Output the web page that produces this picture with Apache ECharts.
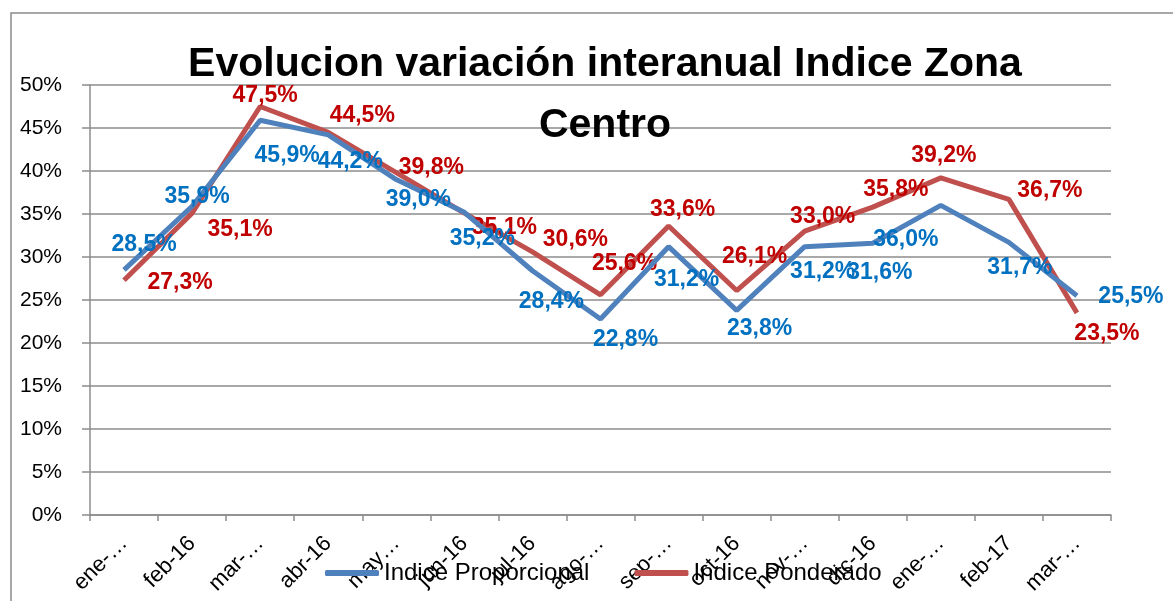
<!DOCTYPE html>
<html>
<head>
<meta charset="utf-8">
<script src="https://cdn.jsdelivr.net/npm/echarts@6/dist/echarts.min.js"></script>
<style>
  html, body { margin: 0; padding: 0; background: #fff; }
  #chart { width: 1173px; height: 601px; }
</style>
</head>
<body>
<div id="chart"></div>
<script>
// tick labels as shown (Excel truncated some of them)
const months = ['ene-…', 'feb-16', 'mar-…', 'abr-16', 'may…', 'jun-16', 'jul-16', 'ago-…',
  'sep-…', 'oct-16', 'nov-…', 'dic-16', 'ene-…', 'feb-17', 'mar-…']
const proporcional = [28.5, 35.9, 45.9, 44.2, 39.0, 35.2, 28.4, 22.8, 31.2, 23.8, 31.2, 31.6, 36.0, 31.7, 25.5]
const ponderado = [27.3, 35.1, 47.5, 44.5, 39.8, 35.1, 30.6, 25.6, 33.6, 26.1, 33.0, 35.8, 39.2, 36.7, 23.5]

// label nudges, px from each point
const propOffsets = [[20, -25], [5, -10], [27, 35], [22, 27], [22, 20], [18, 26], [19, 31], [25, 21],
  [18, 33], [23, 18], [18, 25], [7, 29], [-35, 34], [11, 25], [54, 1]]
const pondOffsets = [[56, 2], [48, 17], [5, -11], [34, -17], [35, -5], [40, 15], [43, -12], [24, -31],
  [14, -16], [18, -34], [18, -15], [23, -17], [3, -22], [41, -9], [30, 21]]

const FONT = '"Liberation Sans", Arial, sans-serif'
const fmt = (v) => v.toFixed(1).replace('.', ',') + '%'

const withLabels = (values, offsets) =>
  values.map((v, i) => ({ value: v, label: { offset: offsets[i] } }))

const lineSeries = (name, values, offsets, lineColor, textColor, z) => ({
  name,
  type: 'line',
  data: withLabels(values, offsets),
  symbol: 'circle',
  symbolSize: 0.1,
  showSymbol: true,
  color: lineColor,
  itemStyle: { color: lineColor },
  lineStyle: { width: 5, color: lineColor },
  label: {
    show: true,
    position: 'inside',
    formatter: (p) => fmt(p.value),
    fontFamily: FONT,
    fontSize: 23,
    fontWeight: 'bold',
    color: textColor
  },
  z
})

const chart = echarts.init(document.getElementById('chart'))

chart.setOption({
  animation: false,
  graphic: [
    {
      type: 'rect',
      shape: { x: 11, y: 13, width: 1200, height: 700 },
      style: { fill: 'none', stroke: '#8c8c8c', lineWidth: 1.5 },
      z: -1
    }
  ],
  title: {
    text: 'Evolucion variación interanual Indice Zona\nCentro',
    left: 600,
    textAlign: 'center',
    top: 29,
    textStyle: {
      fontFamily: FONT,
      fontSize: 41,
      fontWeight: 'bold',
      color: '#000',
      lineHeight: 61
    }
  },
  legend: {
    top: 556,
    left: 320,
    itemWidth: 54,
    itemHeight: 6,
    itemGap: 45,
    icon: 'roundRect',
    textStyle: { fontFamily: FONT, fontSize: 24, color: '#000' },
    data: ['Indice Proporcional', 'Indice Ponderado']
  },
  grid: { left: 90, right: 62, top: 85, bottom: 86 },
  xAxis: {
    type: 'category',
    data: months,
    boundaryGap: true,
    axisLine: { lineStyle: { color: '#8c8c8c', width: 1.5 } },
    axisTick: { show: true, length: 6, lineStyle: { color: '#8c8c8c', width: 1.5 } },
    axisLabel: {
      rotate: 45,
      interval: 0,
      margin: 25,
      fontFamily: FONT,
      fontSize: 22,
      color: '#000'
    }
  },
  yAxis: {
    type: 'value',
    min: 0,
    max: 50,
    interval: 5,
    axisLine: { show: true, lineStyle: { color: '#8c8c8c', width: 1.5 } },
    axisTick: { show: true, length: 8, lineStyle: { color: '#8c8c8c', width: 1.5 } },
    splitLine: { lineStyle: { color: '#8c8c8c', width: 1.5 } },
    axisLabel: {
      formatter: '{value}%',
      margin: 28,
      fontFamily: FONT,
      fontSize: 21,
      color: '#000'
    }
  },
  series: [
    lineSeries('Indice Proporcional', proporcional, propOffsets, '#4F81BD', '#0070C0', 3),
    lineSeries('Indice Ponderado', ponderado, pondOffsets, '#C0504D', '#C00000', 2)
  ]
})
</script>
</body>
</html>
